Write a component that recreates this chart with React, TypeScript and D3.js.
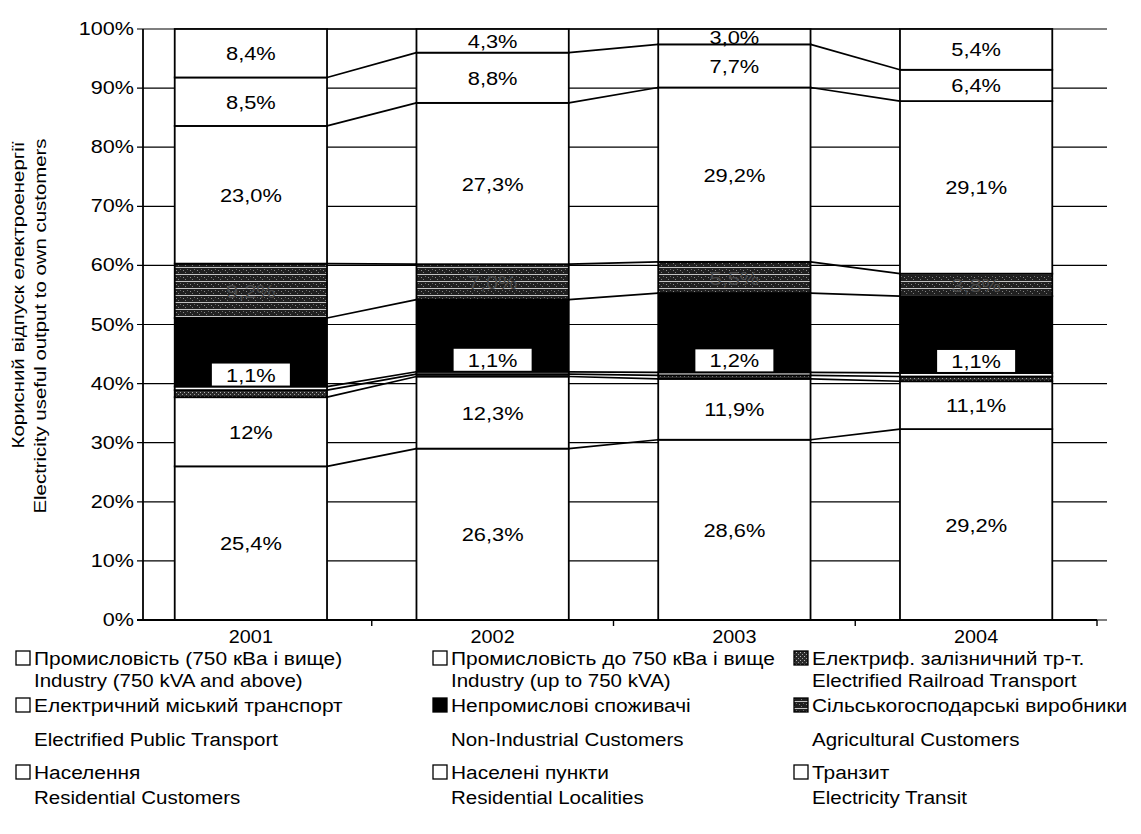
import React from "react";
import * as d3 from "d3";

const years = ["2001", "2002", "2003", "2004"];

// segment heights (bottom to top)
const industryLarge = [26.0, 29.0, 30.5, 32.3];
const industrySmall = [11.7, 12.2, 10.3, 8.1];
const railroad = [1.2, 0.4, 0.6, 0.8];
const publicTransport = [0.6, 0.4, 0.5, 0.6];
const nonIndustrial = [11.6, 12.2, 13.4, 13.0];
const agricultural = [9.2, 6.0, 5.3, 3.8];
const residential = [23.3, 27.3, 29.5, 29.2];
const localities = [8.2, 8.5, 7.3, 5.3];
const transit = [8.2, 4.0, 2.6, 6.9];

// printed data labels
const lblIndustryLarge = ["25,4%", "26,3%", "28,6%", "29,2%"];
const lblIndustrySmall = ["12%", "12,3%", "11,9%", "11,1%"];
const lblRailroad = ["1,1%", "1,1%", "1,2%", "1,1%"];
const lblAgricultural = ["9,2%", "7,0%", "5,5%", "3,8%"];
const lblResidential = ["23,0%", "27,3%", "29,2%", "29,1%"];
const lblLocalities = ["8,5%", "8,8%", "7,7%", "6,4%"];
const lblTransit = ["8,4%", "4,3%", "3,0%", "5,4%"];

const yTicks = [0, 10, 20, 30, 40, 50, 60, 70, 80, 90, 100];

const keys = ["indL", "indS", "rail", "pub", "nonInd", "agri", "res", "loc", "tr"];
const seriesArrays = [industryLarge, industrySmall, railroad, publicTransport, nonIndustrial, agricultural, residential, localities, transit];
const fills = ["#fff", "#fff", "url(#railPat)", "#fff", "#000", "url(#agriPat)", "#fff", "#fff", "#fff"];
const labelArrays: (string[] | null)[] = [lblIndustryLarge, lblIndustrySmall, null, null, null, lblAgricultural, lblResidential, lblLocalities, lblTransit];

const legendItems = [
  { ua: "Промисловість (750 кВа і вище)", en: "Industry (750 kVA and above)", fill: "#fff" },
  { ua: "Промисловість до 750 кВа і вище", en: "Industry (up to 750 kVA)", fill: "#fff" },
  { ua: "Електриф. залізничний тр-т.", en: "Electrified Railroad Transport", fill: "url(#railPat)" },
  { ua: "Електричний міський транспорт", en: "Electrified Public Transport", fill: "#fff" },
  { ua: "Непромислові споживачі", en: "Non-Industrial Customers", fill: "#000" },
  { ua: "Сільськогосподарські виробники", en: "Agricultural Customers", fill: "url(#agriPat)" },
  { ua: "Населення", en: "Residential Customers", fill: "#fff" },
  { ua: "Населені пункти", en: "Residential Localities", fill: "#fff" },
  { ua: "Транзит", en: "Electricity Transit", fill: "#fff" },
];

const FONT = "'Liberation Sans', Arial, sans-serif";

export default function App() {
  const W = 1141, H = 834;
  const y = d3.scaleLinear().domain([0, 100]).range([620, 29]);
  const x = d3.scaleBand<string>().domain(years).range([130, 1097]).paddingInner(0.37).paddingOuter(0.185);
  const bw = x.bandwidth();
  const step = x.step();

  const rows = years.map((yr, i) => {
    const r: any = { year: yr };
    keys.forEach((k, j) => (r[k] = seriesArrays[j][i]));
    return r;
  });
  const stacked = d3.stack<any>().keys(keys)(rows);

  const axisLeft = 143;
  const gridRight = 1107;

  const legendCols = [15, 432, 793];
  const legendRowsUa = [665, 712, 779];
  const legendRowsEn = [687, 746, 804];

  return (
    <svg width={W} height={H} style={{ position: "absolute", left: 0, top: 0, background: "#fff" }} fontFamily={FONT}>
      <defs>
        <pattern id="agriPat" width="7" height="7" patternUnits="userSpaceOnUse">
          <rect width="7" height="7" fill="#202020" />
          <rect x="0" y="1" width="7" height="1" fill="#c4c4c4" />
          <rect x="1" y="4" width="1" height="1" fill="#8a8a8a" />
          <rect x="5" y="3" width="1" height="1" fill="#6a6a6a" />
          <rect x="3" y="6" width="1" height="1" fill="#7a7a7a" />
        </pattern>
        <pattern id="railPat" width="4" height="4" patternUnits="userSpaceOnUse">
          <rect width="4" height="4" fill="#2a2a2a" />
          <rect x="0" y="0" width="1" height="1" fill="#bbb" />
          <rect x="2" y="2" width="1" height="1" fill="#999" />
        </pattern>
      </defs>

      {/* gridlines */}
      {yTicks.map((t) => (
        <line key={"g" + t} x1={axisLeft - 6} x2={gridRight} y1={y(t)} y2={y(t)} stroke="#000" strokeWidth={1.2} />
      ))}

      {/* series lines */}
      {stacked.map((layer, li) =>
        years.slice(0, -1).map((yr, i) => (
          <line
            key={"sl" + li + "-" + i}
            x1={(x(yr) as number) + bw}
            y1={y(layer[i][1])}
            x2={x(years[i + 1]) as number}
            y2={y(layer[i + 1][1])}
            stroke="#000"
            strokeWidth={1.7}
          />
        ))
      )}

      {/* bars */}
      {stacked.map((layer, li) =>
        layer.map((d, i) => (
          <rect
            key={"r" + li + "-" + i}
            x={x(years[i])}
            y={y(d[1])}
            width={bw}
            height={y(d[0]) - y(d[1])}
            fill={fills[li]}
            stroke="#000"
            strokeWidth={1.8}
          />
        ))
      )}

      {/* data labels */}
      {stacked.map((layer, li) => {
        const lbl = labelArrays[li];
        if (!lbl) return null;
        return layer.map((d, i) => {
          const cx = (x(years[i]) as number) + bw / 2;
          const cy = (y(d[0]) + y(d[1])) / 2 + 7;
          return (
            <text
              key={"l" + li + "-" + i}
              transform={`translate(${cx},${cy}) scale(1.15,1)`}
              textAnchor="middle"
              fontSize={19}
              fill={fills[li] === "#fff" ? "#000" : "#4a4a4a"}
            >
              {lbl[i]}
            </text>
          );
        });
      })}

      {/* small segment label in white box, above the thin bands */}
      {years.map((yr, i) => {
        const top = y(stacked[3][i][1]);
        const cx = (x(yr) as number) + bw / 2;
        return (
          <g key={"sb" + i}>
            <rect x={cx - 39} y={top - 23} width={78} height={22} fill="#fff" />
            <text transform={`translate(${cx},${top - 5}) scale(1.15,1)`} textAnchor="middle" fontSize={19} fill="#000">
              {lblRailroad[i]}
            </text>
          </g>
        );
      })}

      {/* y axis */}
      <line x1={axisLeft} x2={axisLeft} y1={y(100)} y2={y(0)} stroke="#000" strokeWidth={1.8} />
      {yTicks.map((t) => (
        <text key={"yt" + t} transform={`translate(134,${y(t) + 6}) scale(1.2,1)`} textAnchor="end" fontSize={18} fill="#000">
          {t + "%"}
        </text>
      ))}

      {/* x axis */}
      <line x1={axisLeft - 6} x2={1097} y1={y(0)} y2={y(0)} stroke="#000" strokeWidth={1.8} />
      {d3.range(1, years.length + 1).map((k) => {
        const xx = 130 + k * step;
        return <line key={"xt" + k} x1={xx} x2={xx} y1={y(0)} y2={y(0) + 6} stroke="#000" strokeWidth={1.4} />;
      })}
      {years.map((yr) => (
        <text key={"xl" + yr} transform={`translate(${(x(yr) as number) + bw / 2},643) scale(1.1,1)`} textAnchor="middle" fontSize={18} fill="#000">
          {yr}
        </text>
      ))}

      {/* y axis title */}
      <text transform="translate(24,295) rotate(-90) scale(1.2,1)" textAnchor="middle" fontSize={17} fill="#000">
        Корисний відпуск електроенергії
      </text>
      <text transform="translate(46,326) rotate(-90) scale(1.2,1)" textAnchor="middle" fontSize={17} fill="#000">
        Electricity useful output to own customers
      </text>

      {/* legend */}
      {legendItems.map((it, idx) => {
        const col = idx % 3;
        const row = Math.floor(idx / 3);
        const lx = legendCols[col];
        const yu = legendRowsUa[row];
        const ye = legendRowsEn[row];
        return (
          <g key={"lg" + idx}>
            <rect x={lx + 1} y={yu - 14} width={14} height={14} fill={it.fill} stroke="#000" strokeWidth={1.3} />
            <text transform={`translate(${lx + 19},${yu}) scale(1.1,1)`} fontSize={19} fill="#000">{it.ua}</text>
            <text transform={`translate(${lx + 19},${ye}) scale(1.08,1)`} fontSize={19} fill="#000">{it.en}</text>
          </g>
        );
      })}
    </svg>
  );
}
